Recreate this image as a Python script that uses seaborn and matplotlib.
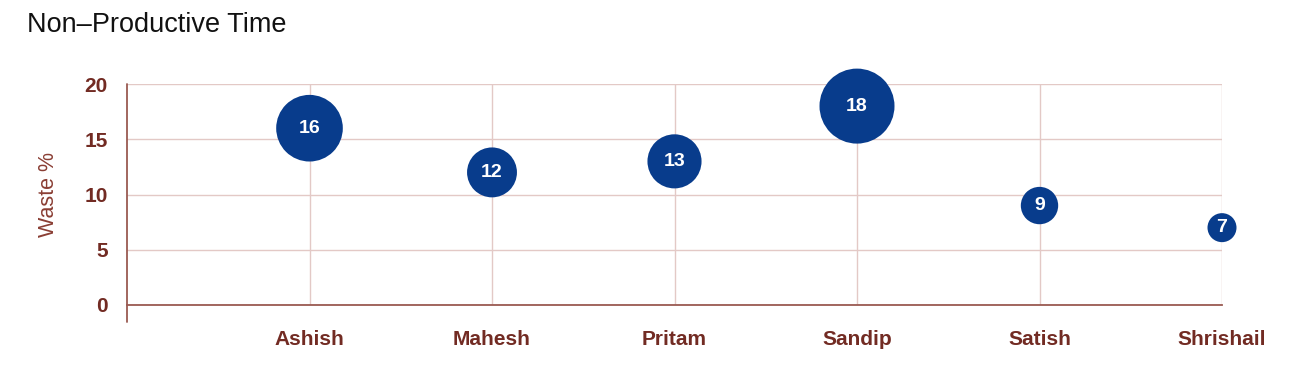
import matplotlib
matplotlib.use("Agg")
import matplotlib.pyplot as plt
import seaborn as sns
import pandas as pd

# Waste percentage per operator
operators = ["Ashish", "Mahesh", "Pritam", "Sandip", "Satish", "Shrishail"]
waste = [16, 12, 13, 18, 9, 7]
y_ticks = [0, 5, 10, 15, 20]

df = pd.DataFrame({"operator": operators, "waste": waste})
df["pos"] = range(1, len(operators) + 1)

sns.set_theme(style="white")
plt.rcParams["font.family"] = ["Liberation Sans", "DejaVu Sans"]

DPI = 100
fig = plt.figure(figsize=(13.14, 3.70), dpi=DPI)
ax = fig.add_axes([127 / 1314, 65 / 370, 1095 / 1314, 221 / 370])

maroon = "#722b23"
grid_c = "#e3c9c6"
axis_c = "#9a5a52"
bubble_c = "#083c8c"

# bubble radius grows linearly with value; convert radius (px) to marker area (pt^2)
vmin, vmax = min(waste), max(waste)
rmin_px, rmax_px = 14.5, 37.5
def area(v):
    r_px = rmin_px + (v - vmin) / (vmax - vmin) * (rmax_px - rmin_px)
    r_pt = r_px * 72 / DPI
    return (2 * r_pt) ** 2
size_map = {v: area(v) for v in waste}

sns.scatterplot(data=df, x="pos", y="waste", size="waste", sizes=size_map,
                color=bubble_c, edgecolor="none", alpha=1, legend=False,
                ax=ax, zorder=3, clip_on=False)

for p, v in zip(df["pos"], df["waste"]):
    ax.text(p, v, str(v), color="white", fontsize=14, fontweight="bold",
            ha="center", va="center", zorder=4)

ax.set_xlim(0, len(operators))
ax.set_ylim(0, 20)
ax.set_xticks(df["pos"])
ax.set_xticklabels(operators)
ax.set_yticks(y_ticks)
ax.set_yticklabels([str(t) for t in y_ticks])

ax.grid(True, color=grid_c, linewidth=1.0, zorder=0)
ax.set_axisbelow(True)
for s in ["top", "right", "left"]:
    ax.spines[s].set_visible(False)
ax.spines["bottom"].set_color(axis_c)
ax.spines["bottom"].set_linewidth(1.3)
ax.axvline(0, ymin=-0.077, ymax=1, color=axis_c, linewidth=1.3, clip_on=False, zorder=2)

ax.tick_params(axis="both", length=12, width=1.0, color=grid_c,
               labelcolor=maroon, labelsize=15)
ax.tick_params(axis="x", pad=6)
ax.tick_params(axis="y", pad=2)
for lab in ax.get_xticklabels() + ax.get_yticklabels():
    lab.set_fontweight("bold")

ax.set_xlabel("")
ax.set_ylabel("Waste %", color="#8a3e34", fontsize=15.5, labelpad=18)

fig.text(27 / 1314, 1 - 25 / 370, "Non\u2013Productive Time", fontsize=19.5,
         color="#111111", ha="left", va="center")

fig.savefig("out.png", dpi=DPI, facecolor="white")
